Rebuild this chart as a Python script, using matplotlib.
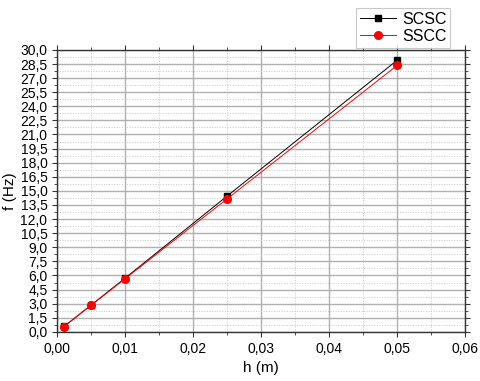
import matplotlib
matplotlib.use("Agg")
import matplotlib.pyplot as plt
from matplotlib.ticker import MultipleLocator, FuncFormatter

plt.rcParams['font.family'] = ['Liberation Sans', 'DejaVu Sans']

h = [0.001, 0.005, 0.01, 0.025, 0.05]
f_scsc = [0.57, 2.85, 5.72, 14.45, 28.9]
f_sscc = [0.56, 2.82, 5.65, 14.15, 28.35]
series_names = ["SCSC", "SSCC"]

fig = plt.figure(figsize=(4.8, 3.81), dpi=100)
ax = fig.add_axes([0.119, 0.129, 0.850, 0.740])

ax.plot(h, f_scsc, color='black', lw=0.7, marker='s', ms=5, label=series_names[0], zorder=3)
ax.plot(h, f_sscc, color='red', lw=0.7, marker='o', ms=5.5, label=series_names[1], zorder=4)

ax.set_xlim(0, 0.06)
ax.set_ylim(0, 30)
ax.xaxis.set_major_locator(MultipleLocator(0.01))
ax.xaxis.set_minor_locator(MultipleLocator(0.005))
ax.yaxis.set_major_locator(MultipleLocator(1.5))
ax.yaxis.set_minor_locator(MultipleLocator(0.75))
ax.xaxis.set_major_formatter(FuncFormatter(lambda v, p: f"{v:.2f}".replace('.', ',')))
ax.yaxis.set_major_formatter(FuncFormatter(lambda v, p: f"{v:.1f}".replace('.', ',')))

ax.grid(which='major', color='#b0b0b0', lw=1.0, ls='-')
ax.grid(which='minor', color='#c8c8c8', lw=0.7, ls=':')
ax.set_axisbelow(True)

ax.tick_params(which='both', top=True, right=True, labelsize=10, color='#333333')
ax.tick_params(which='major', length=3.5)
ax.tick_params(which='minor', length=2)
for s in ax.spines.values():
    s.set_linewidth(1.0)
    s.set_color('#333333')

ax.set_xlabel("h (m)", fontsize=11)
ax.set_ylabel("f (Hz)", fontsize=11, labelpad=2)

leg = fig.legend(loc='upper right', bbox_to_anchor=(0.955, 1.0), fontsize=11.5,
                 fancybox=False, edgecolor='#bbbbbb', handlelength=2.2,
                 borderpad=0.25, labelspacing=0.1, handletextpad=0.4)
leg.get_frame().set_linewidth(0.8)

fig.savefig("out.png", dpi=100)
